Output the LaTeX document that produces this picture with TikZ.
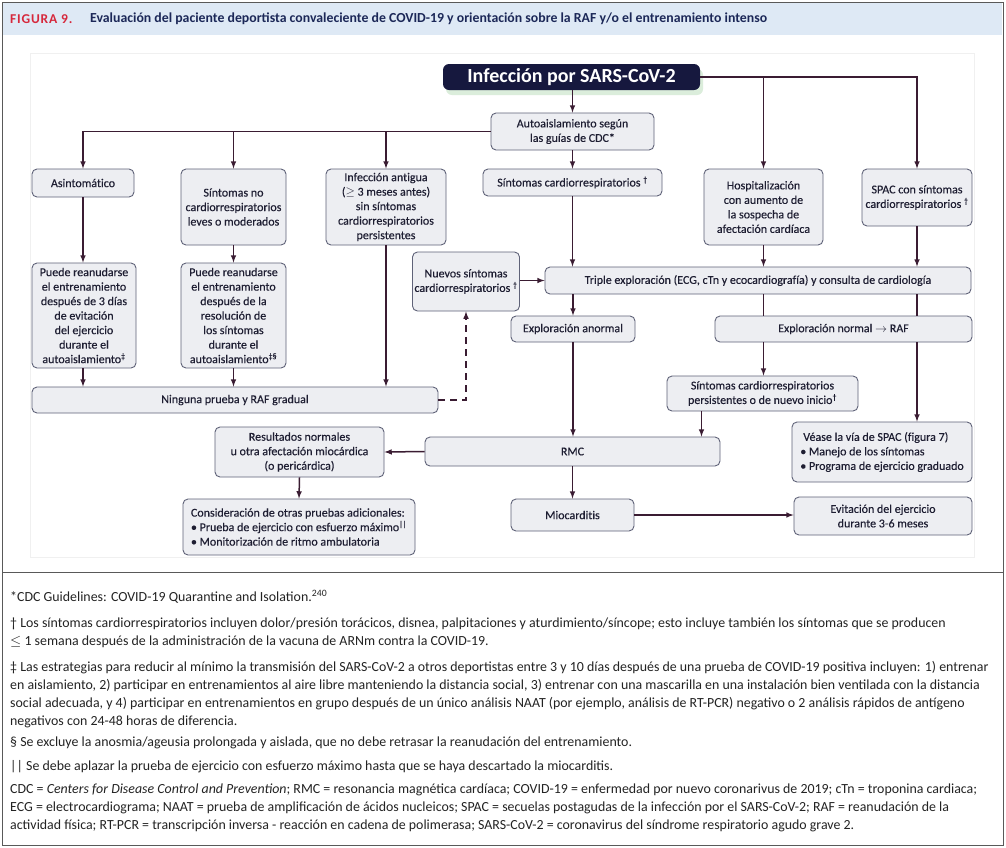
\documentclass[tikz,border=0pt]{standalone}
\usepackage{fontspec}
\setmainfont{Carlito}
\newfontfamily\boxfont[FakeBold=0.3, Ligatures=NoCommon]{Carlito}
\newfontfamily\labelfont[LetterSpace=6]{Carlito}
\usepackage{xcolor}
\usetikzlibrary{arrows,positioning,shadows}
\definecolor{linkc}{RGB}{58,28,50}
\definecolor{boxfill}{RGB}{237,238,242}
\definecolor{boxline}{RGB}{95,98,120}
\definecolor{navyc}{RGB}{22,24,62}
\definecolor{headblue}{RGB}{222,233,245}
\definecolor{figred}{RGB}{214,40,60}
\definecolor{titlec}{RGB}{28,40,88}
\definecolor{textc}{RGB}{30,30,50}
\definecolor{notec}{RGB}{35,35,35}

\begin{document}
\begin{tikzpicture} [
  x = 1pt, y = -1pt,
  box/.style = { draw=boxline, fill=boxfill, rounded corners=5pt, line width=0.9pt,
    align=center, inner sep=2pt, text=textc, font=\boxfont\fontsize{12}{14.5}\selectfont },
  wh/.style 2 args = { minimum width=#1pt, minimum height=#2pt },
  link/.style = { -latex, line width=1.5pt, draw=linkc },
  plain/.style = { line width=1.5pt, draw=linkc },
  note/.style = { anchor=north west, inner sep=0, align=left, text=notec,
    font=\fontsize{13.9}{18}\selectfont }
  ]

  \useasboundingbox (0,0) rectangle (1006,847);

  % frame, title band and panel
  \fill[white] (0,0) rectangle (1006,847);
  \fill[headblue] (3,3) rectangle (1002,35);
  \draw[gray!70!black, line width=1pt] (2,2) rectangle (1003,845);
  \draw[gray!70!black, line width=1pt] (2,572) -- (1003,572);
  \draw[gray!12, line width=0.8pt] (30,53) rectangle (974,557);

  \node[anchor=west, inner sep=0, text=figred, font=\labelfont\bfseries\fontsize{13.5}{15}\selectfont] (fig) at (10,19) {FIGURA 9.};
  \node[anchor=west, inner sep=0, text=titlec, font=\bfseries\fontsize{13.8}{15}\selectfont] (title) at (90,19)
    {Evaluación del paciente deportista convaleciente de COVID-19 y orientación sobre la RAF y/o el entrenamiento intenso};

  % boxes
  \node[fill=navyc, rounded corners=6pt, text=white, font=\bfseries\fontsize{20}{22}\selectfont, wh={257}{26},
    drop shadow={shadow xshift=3pt, shadow yshift=-5pt, opacity=0.35, fill=black!50!green!40}] (inf) at (571.5,77) {Infección por SARS-CoV-2};
  \node[box, wh={163}{37}] (auto) at (572.5,131.5) {Autoaislamiento según\\las guías de CDC*};

  \node[box, wh={102}{28}] (asin) at (83,183) {Asintomático};
  \node[box, wh={105}{76}] (snc) at (233.5,207) {Síntomas no\\cardiorrespiratorios\\leves o moderados};
  \node[box, wh={120}{76}] (ant) at (386,207) {Infección antigua\\($\geq$ 3 meses antes)\\sin síntomas\\cardiorrespiratorios\\persistentes};
  \node[box, wh={179}{27}] (scard) at (572.5,182.5) {Síntomas cardiorrespiratorios \textsuperscript{†}};
  \node[box, wh={119}{76}] (hosp) at (763.5,207) {Hospitalización\\con aumento de\\la sospecha de\\afectación cardíaca};
  \node[box, wh={110}{57}] (spac) at (917,197.5) {SPAC con síntomas\\cardiorrespiratorios \textsuperscript{†}};

  \node[box, wh={104}{105}] (pr1) at (84,315.5) {Puede reanudarse\\el entrenamiento\\después de 3 días\\de evitación\\del ejercicio\\durante el\\autoaislamiento\textsuperscript{‡}};
  \node[box, wh={105}{105}] (pr2) at (233.5,315.5) {Puede reanudarse\\el entrenamiento\\después de la\\resolución de\\los síntomas\\durante el\\autoaislamiento\textsuperscript{‡§}};
  \node[box, wh={102}{59}] (nuevos) at (466,281.5) {Nuevos síntomas\\cardiorrespiratorios \textsuperscript{†}};
  \node[box, wh={426}{27}] (triple) at (758,280.5) {Triple exploración (ECG, cTn y ecocardiograf{}ía) y consulta de cardiología};
  \node[box, wh={124}{26}] (anorm) at (573,329) {Exploración anormal};
  \node[box, wh={257}{26}] (normal) at (843.5,329) {Exploración normal $\rightarrow$ RAF};
  \node[box, wh={406}{26}] (ning) at (235,400) {Ninguna prueba y RAF gradual};
  \node[box, wh={191}{35}] (pers) at (762.5,393.5) {Síntomas cardiorrespiratorios\\persistentes o de nuevo inicio\textsuperscript{†}};

  \node[box, wh={295}{29}] (rmc) at (572.5,451.5) {RMC};
  \node[box, wh={169}{50}] (res) at (299.5,452) {Resultados normales\\u otra afectación miocárdica\\(o pericárdica)};
  \node[box, wh={232}{56}, align=left] (cons) at (299,527) {Consideración de otras pruebas adicionales:\\• Prueba de ejercicio con esfuerzo máximo\textsuperscript{||}\\• Monitorización de ritmo ambulatoria};
  \node[box, wh={123}{32}] (mio) at (572.5,515) {Miocarditis};
  \node[box, wh={178}{38}] (evit) at (883,516) {Evitación del ejercicio\\durante 3-6 meses};
  \node[box, wh={180}{60}, align=left] (vease) at (882,452) {\hspace*{3pt}Véase la vía de SPAC (figura 7)\\• Manejo de los síntomas\\• Programa de ejercicio graduado};

  % connectors
  \draw[link] (auto.north |- inf.south) -- (auto.north);
  \draw[link] (auto.west) -| (asin.north);
  \draw[link] (snc.north |- auto.west) -- (snc.north);
  \draw[link] (ant.north |- auto.west) -- (ant.north);
  \draw[link] (auto.south) -- (scard.north);
  \draw[link] (inf.east) -| (spac.north);
  \draw[link] (hosp.north |- inf.east) -- (hosp.north);

  \draw[link] (asin.south) -- (asin.south |- pr1.north);
  \draw[link] (snc.south) -- (pr2.north);
  \draw[link] (pr1.south -| asin.south) -- (asin.south |- ning.north);
  \draw[link] (pr2.south) -- (pr2.south |- ning.north);
  \draw[link] (ant.south) -- (ant.south |- ning.north);
  \draw[link, dash pattern=on 7pt off 5pt] (ning.east) -| (nuevos.south);

  \draw[link] (nuevos.east |- triple.west) -- (triple.west);
  \draw[link] (scard.south) -- (scard.south |- triple.north);
  \draw[link] (hosp.south) -- (hosp.south |- triple.north);
  \draw[link] (spac.south) -- (spac.south |- triple.north);
  \draw[link] (anorm.north |- triple.south) -- (anorm.north);
  \draw[plain] (hosp.south |- triple.south) -- (hosp.south |- normal.north);
  \draw[plain] (spac.south |- triple.south) -- (spac.south |- normal.north);
  \draw[link] (hosp.south |- normal.south) -- (hosp.south |- pers.north);
  \draw[link] (spac.south |- normal.south) -- (spac.south |- vease.north);

  \draw[link] (anorm.south) -- (anorm.south |- rmc.north);
  \draw[link] ([xshift=-61pt]pers.south) -- ([xshift=-61pt]pers.south |- rmc.north);
  \draw[link] (rmc.west) -- (res.east);
  \draw[link] (res.south) -- (cons.north);
  \draw[link] (rmc.south) -- (mio.north);
  \draw[link] (mio.east) -- (evit.west |- mio.east);

  % footnotes
  \node[note] (fn1) at (10,590) {*CDC Guidelines: COVID-19 Quarantine and Isolation.\textsuperscript{240}};
  \node[note] (fn2) at (10,618) {† Los síntomas cardiorrespiratorios incluyen dolor/presión torácicos, disnea, palpitaciones y aturdimiento/síncope; esto incluye también los síntomas que se producen\\
    $\leq$ 1 semana después de la administración de la vacuna de ARNm contra la COVID-19.};
  \node[note] (fn3) at (10,661) {‡ Las estrategias para reducir al mínimo la transmisión del SARS-CoV-2 a otros deportistas entre 3 y 10 días después de una prueba de COVID-19 positiva incluyen: 1) entrenar\\
    en aislamiento, 2) participar en entrenamientos al aire libre manteniendo la distancia social, 3) entrenar con una mascarilla en una instalación bien ventilada con la distancia\\
    social adecuada, y 4) participar en entrenamientos en grupo después de un único análisis NAAT (por ejemplo, análisis de RT-PCR) negativo o 2 análisis rápidos de antígeno\\
    negativos con 24-48 horas de diferencia.};
  \node[note] (fn4) at (10,737) {§ Se excluye la anosmia/ageusia prolongada y aislada, que no debe retrasar la reanudación del entrenamiento.};
  \node[note] (fn5) at (10,760) {|| Se debe aplazar la prueba de ejercicio con esfuerzo máximo hasta que se haya descartado la miocarditis.};
  \node[note] (fn6) at (10,784) {CDC = \textit{Centers for Disease Control and Prevention}; RMC = resonancia magnética cardíaca; COVID-19 = enfermedad por nuevo coronarivus de 2019; cTn = troponina cardiaca;\\
    ECG = electrocardiograma; NAAT = prueba de amplificación de ácidos nucleicos; SPAC = secuelas postagudas de la infección por el SARS-CoV-2; RAF = reanudación de la\\
    actividad física; RT-PCR = transcripción inversa - reacción en cadena de polimerasa; SARS-CoV-2 = coronavirus del síndrome respiratorio agudo grave 2.};
\end{tikzpicture}
\end{document}
